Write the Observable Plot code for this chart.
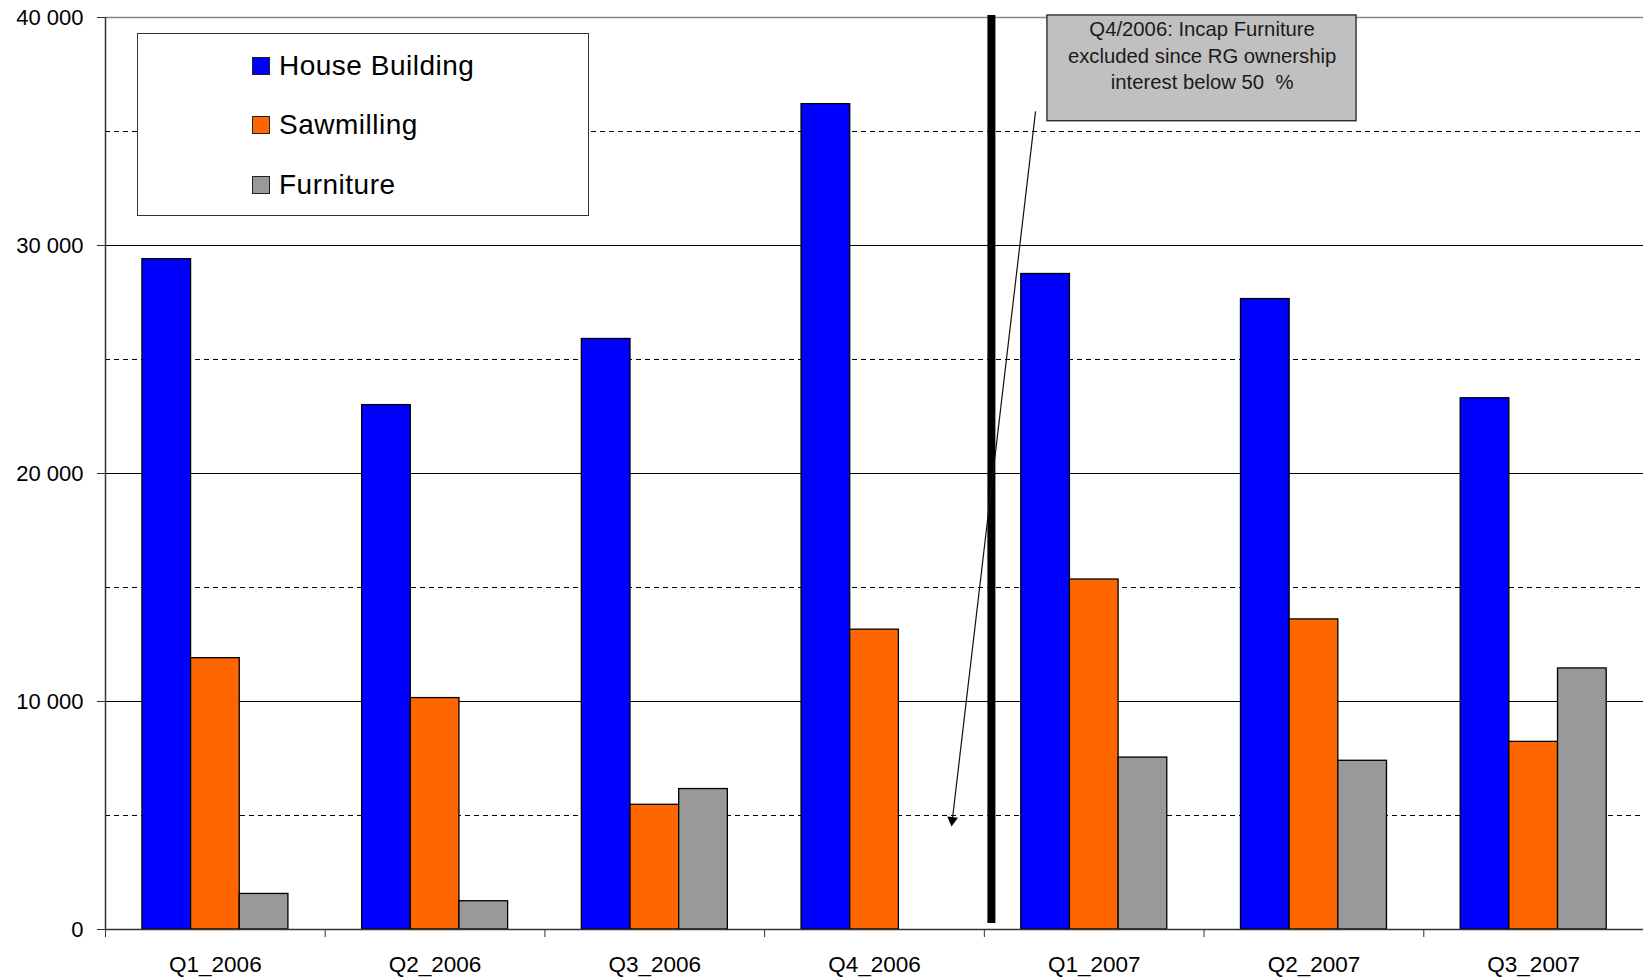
<!DOCTYPE html>
<html>
<head>
<meta charset="utf-8">
<script src="https://cdn.jsdelivr.net/npm/d3@7"></script>
<script src="https://cdn.jsdelivr.net/npm/@observablehq/plot@0.6"></script>
<style>
  html, body { margin: 0; padding: 0; background: #fff; }
  #wrap { position: relative; width: 1643px; height: 979px; font-family: "Liberation Sans", Arial, sans-serif; }
  #legend { position: absolute; left: 137px; top: 33px; width: 450px; height: 181px; border: 1.5px solid #333; background: #fff; }
  .item { position: absolute; left: 114px; height: 30px; display: flex; align-items: center; }
  .sw { width: 16px; height: 16px; border: 1.3px solid #222; margin-right: 9px; }
  .lab { font-size: 28px; letter-spacing: 0.5px; color: #000; line-height: 30px; }
</style>
</head>
<body>
<div id="wrap"><div id="chart"></div><div id="legend"></div></div>
<script>
// ---- data ----
const quarters = ["Q1_2006", "Q2_2006", "Q3_2006", "Q4_2006", "Q1_2007", "Q2_2007", "Q3_2007"];
const series = ["House Building", "Sawmilling", "Furniture"];
const houseBuilding = [29400, 23000, 25900, 36200, 28750, 27650, 23300];
const sawmilling    = [11900, 10150, 5470, 13150, 15350, 13600, 8230];
const furniture     = [1560, 1240, 6160, null, 7540, 7400, 11450];
const yTicks = [0, 10000, 20000, 30000, 40000];
const yMinorGrid = [5000, 15000, 25000, 35000];
const yMajorGrid = [10000, 20000, 30000];
const colors = ["#0000ff", "#ff6600", "#999999"];
const note = "Q4/2006: Incap Furniture\nexcluded since RG ownership\ninterest below 50  %";

// ---- layout (fractions of a quarter's band) ----
const groupStart = 0.168, barW = 0.2215;

const valuesBySeries = [houseBuilding, sawmilling, furniture];
const rows = [];
quarters.forEach((q, qi) => {
  series.forEach((s, si) => {
    const v = valuesBySeries[si][qi];
    if (v == null) return;
    const x1 = qi + groupStart + si * barW;
    rows.push({quarter: q, series: s, value: v, x1, x2: x1 + barW});
  });
});

const fmt = d => d3.format(",")(d).replace(/,/g, " ");

// annotation geometry in data units
const sepLine = [{x: 4.032, y1: 260, y2: 40090}];
const pointer = [{x1: 4.233, y1: 35880, x2: 3.854, y2: 4790}];
const noteBox = [{x1: 4.287, x2: 5.694, y1: 35450, y2: 40090}];
const noteText = [{x: 4.991, y: 38390, text: note}];

const chart = Plot.plot({
  width: 1643,
  height: 979,
  marginLeft: 105,
  marginRight: 0,
  marginTop: 17,
  marginBottom: 50,
  style: {fontFamily: "'Liberation Sans', Arial, sans-serif", fontSize: "22px", color: "#000", background: "transparent", overflow: "visible"},
  x: {domain: [0, quarters.length], label: null},
  y: {domain: [0, 40000], label: null},
  color: {domain: series, range: colors},
  marks: [
    Plot.ruleY(yMinorGrid, {stroke: "#000", strokeWidth: 1.2, strokeDasharray: "5,4"}),
    Plot.ruleY(yMajorGrid, {stroke: "#000", strokeWidth: 1}),
    Plot.ruleY([40000], {stroke: "#888", strokeWidth: 1.3}),
    Plot.rectY(rows, {x1: "x1", x2: "x2", y: "value", fill: "series", stroke: "#000", strokeWidth: 1.3}),
    Plot.ruleY([0], {stroke: "#333", strokeWidth: 1.5}),
    Plot.ruleX([0], {y1: 0, y2: 40000, stroke: "#333", strokeWidth: 1.5}),
    Plot.axisY({ticks: yTicks, tickFormat: fmt, tickSize: 8, tickPadding: 14, fontSize: 22, label: null, stroke: "#333"}),
    Plot.axisX({ticks: d3.range(0, quarters.length + 1), tickSize: 8, fill: "none", stroke: "#333", label: null}),
    Plot.axisX({ticks: quarters.map((q, i) => i + 0.5), tickFormat: d => quarters[Math.floor(d)], tickSize: 0, tickPadding: 27, fontSize: 22.5, label: null}),
    Plot.ruleX(sepLine, {x: "x", y1: "y1", y2: "y2", stroke: "#000", strokeWidth: 8}),
    Plot.link(pointer, {x1: "x1", y1: "y1", x2: "x2", y2: "y2", stroke: "#111", strokeWidth: 1.2}),
    Plot.dot(pointer, {x: "x2", y: "y2", symbol: "triangle", r: 4, rotate: 186.7, fill: "#000", stroke: "none"}),
    Plot.rect(noteBox, {x1: "x1", x2: "x2", y1: "y1", y2: "y2", fill: "#c0c0c0", stroke: "#222", strokeWidth: 1.3}),
    Plot.text(noteText, {x: "x", y: "y", text: "text", fontSize: 20.3, lineHeight: 1.3, lineAnchor: "middle", fill: "#1a1a1a"})
  ]
});
document.getElementById("chart").appendChild(chart);

// legend
const legend = document.getElementById("legend");
const rowTops = [17, 76, 136];
series.forEach((s, i) => {
  const item = document.createElement("div");
  item.className = "item";
  item.style.top = rowTops[i] + "px";
  const sw = document.createElement("div");
  sw.className = "sw";
  sw.style.background = colors[i];
  const lab = document.createElement("span");
  lab.className = "lab";
  lab.textContent = s;
  item.appendChild(sw);
  item.appendChild(lab);
  legend.appendChild(item);
});
</script>
</body>
</html>
